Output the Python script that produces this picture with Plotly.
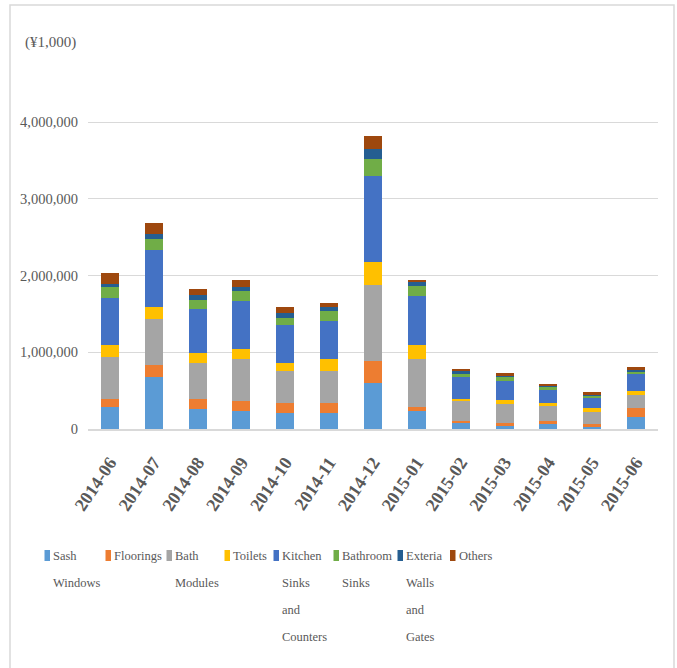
import plotly.graph_objects as go

months = ["2014-06", "2014-07", "2014-08", "2014-09", "2014-10", "2014-11", "2014-12",
          "2015-01", "2015-02", "2015-03", "2015-04", "2015-05", "2015-06"]

sash_windows = [282000, 673000, 256000, 230000, 213000, 213000, 603000, 230000, 80000, 43000, 69000, 26000, 156000]
floorings = [113000, 165000, 130000, 139000, 130000, 122000, 278000, 52000, 26000, 35000, 35000, 43000, 122000]
bath_modules = [538000, 599000, 469000, 538000, 408000, 425000, 998000, 634000, 260000, 252000, 200000, 156000, 165000]
toilets = [165000, 156000, 130000, 139000, 113000, 156000, 304000, 174000, 26000, 48000, 39000, 48000, 52000]
kitchen_sinks = [616000, 747000, 582000, 625000, 495000, 495000, 1120000, 651000, 286000, 247000, 169000, 143000, 226000]
bathroom_sinks = [139000, 139000, 122000, 130000, 91000, 122000, 217000, 130000, 52000, 56000, 39000, 26000, 35000]
exteria_walls = [43000, 69000, 61000, 52000, 65000, 61000, 130000, 52000, 20000, 13000, 13000, 13000, 26000]
others = [139000, 139000, 78000, 91000, 78000, 52000, 174000, 26000, 30000, 35000, 13000, 26000, 26000]

series_names = ["Sash Windows", "Floorings", "Bath Modules", "Toilets",
                "Kitchen Sinks and Counters", "Bathroom Sinks", "Exteria Walls and Gates", "Others"]
series_values = [sash_windows, floorings, bath_modules, toilets,
                 kitchen_sinks, bathroom_sinks, exteria_walls, others]
legend_lines = [["Sash", "Windows"], ["Floorings"], ["Bath", "Modules"], ["Toilets"],
                ["Kitchen", "Sinks", "and", "Counters"], ["Bathroom", "Sinks"],
                ["Exteria", "Walls", "and", "Gates"], ["Others"]]
colors = ["#5B9BD5", "#ED7D31", "#A5A5A5", "#FFC000", "#4472C4", "#70AD47", "#255E91", "#9E480E"]

y_ticks = [0, 1000000, 2000000, 3000000, 4000000]
y_tick_text = ["0", "1,000,000", "2,000,000", "3,000,000", "4,000,000"]
unit_label = "(¥1,000)"

W, H = 677, 668
L, R, T, B = 88, 658, 118, 429
ymax = 4000000 * (B - T) / 306.7

def px(x):
    return (x - L) / (R - L)

def py(y):
    return (B - y) / (B - T)

fig = go.Figure()
for name, vals, col in zip(series_names, series_values, colors):
    fig.add_trace(go.Bar(x=months, y=vals, name=name, marker=dict(color=col, line=dict(width=0)),
                         showlegend=False))

text_col = "#595959"
serif = "Liberation Serif, Times New Roman, serif"

shapes = [dict(type="rect", xref="paper", yref="paper", x0=px(10), x1=px(674), y0=py(700), y1=py(5),
               line=dict(color="#D9D9D9", width=1.5), fillcolor="rgba(0,0,0,0)", layer="below")]
annotations = [dict(text=unit_label, xref="paper", yref="paper", x=px(23), y=py(43), xanchor="left",
                    yanchor="middle", showarrow=False, font=dict(family=serif, size=15, color=text_col))]

sq_x = [44.5, 105.5, 166.5, 224.5, 273.5, 333.5, 397.5, 450]
for i, lines in enumerate(legend_lines):
    x0 = sq_x[i]
    shapes.append(dict(type="rect", xref="paper", yref="paper", x0=px(x0), x1=px(x0 + 5.5),
                       y0=py(561), y1=py(550), fillcolor=colors[i], line=dict(width=0)))
    for k, ln in enumerate(lines):
        annotations.append(dict(text=ln, xref="paper", yref="paper", x=px(x0 + 6.5), y=py(556 + 27 * k),
                                xanchor="left", yanchor="middle", showarrow=False,
                                font=dict(family=serif, size=12.5, color=text_col)))

fig.update_layout(
    width=W, height=H,
    margin=dict(l=L, r=W - R, t=T, b=H - B, pad=0),
    barmode="stack", bargap=0.59,
    plot_bgcolor="white", paper_bgcolor="white",
    showlegend=False,
    shapes=shapes, annotations=annotations,
    xaxis=dict(type="category", showgrid=False, showline=True, linecolor="#D9D9D9", linewidth=2, ticks="",
               tickangle=-56, ticklabelstandoff=14,
               tickfont=dict(family=serif, size=18, color=text_col, weight="bold")),
    yaxis=dict(range=[0, ymax], tickvals=y_ticks, ticktext=y_tick_text, showgrid=True,
               gridcolor="#D9D9D9", gridwidth=1.3, zeroline=False, showline=False, ticks="",
               ticklabelstandoff=9,
               tickfont=dict(family=serif, size=14.5, color=text_col)),
)

fig.write_html("out.html")
